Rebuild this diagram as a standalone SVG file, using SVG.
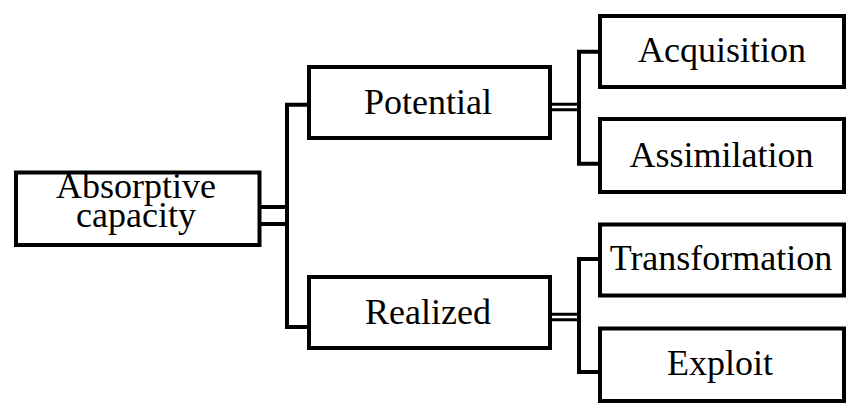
<svg xmlns="http://www.w3.org/2000/svg" width="856" height="416" viewBox="0 0 856 416">
<style>
.box{fill:#fff;stroke:#000;stroke-width:4}
.lbl{font-size:36px;fill:#000;text-anchor:middle}
.c{fill:none;stroke:#000;stroke-width:4;stroke-linejoin:miter}
.d{fill:none;stroke:#000;stroke-width:3}
</style>
<rect width="856" height="416" fill="#fff"/>
<g id="connectors">
<path class="c" d="M259.5 207 H287 M259.5 224 H287"/>
<path class="c" d="M309 104.7 H287 V327 H309"/>
<path class="d" d="M550 104.2 H579 M550 109.8 H579"/>
<path class="c" d="M600 51.7 H579 V163.7 H600"/>
<path class="d" d="M550 314.2 H579 M550 319.8 H579"/>
<path class="c" d="M600 259 H579 V372 H600"/>
</g>
<g font-family="'Liberation Serif', 'Times New Roman', 'DejaVu Serif', serif">
<g id="n-absorptive">
<rect class="box" x="16" y="172.5" width="243.5" height="72.5"/>
<text class="lbl" x="136" y="197.5" font-size="34">Absorptive</text>
<text class="lbl" x="136" y="226.5" font-size="34">capacity</text>
</g>
<g id="n-potential">
<rect class="box" x="309" y="67" width="241" height="71"/>
<text class="lbl" x="428" y="114">Potential</text>
</g>
<g id="n-realized">
<rect class="box" x="309" y="277" width="241" height="71"/>
<text class="lbl" x="428" y="324">Realized</text>
</g>
<g id="n-acquisition">
<rect class="box" x="600" y="16" width="244" height="71"/>
<text class="lbl" x="722" y="62">Acquisition</text>
</g>
<g id="n-assimilation">
<rect class="box" x="600" y="119" width="244" height="73"/>
<text class="lbl" x="721.5" y="167">Assimilation</text>
</g>
<g id="n-transformation">
<rect class="box" x="600" y="224.5" width="244" height="71"/>
<text class="lbl" x="721" y="270">Transformation</text>
</g>
<g id="n-exploit">
<rect class="box" x="600" y="328.5" width="244" height="72.5"/>
<text class="lbl" x="720" y="375">Exploit</text>
</g>
</g>
</svg>
